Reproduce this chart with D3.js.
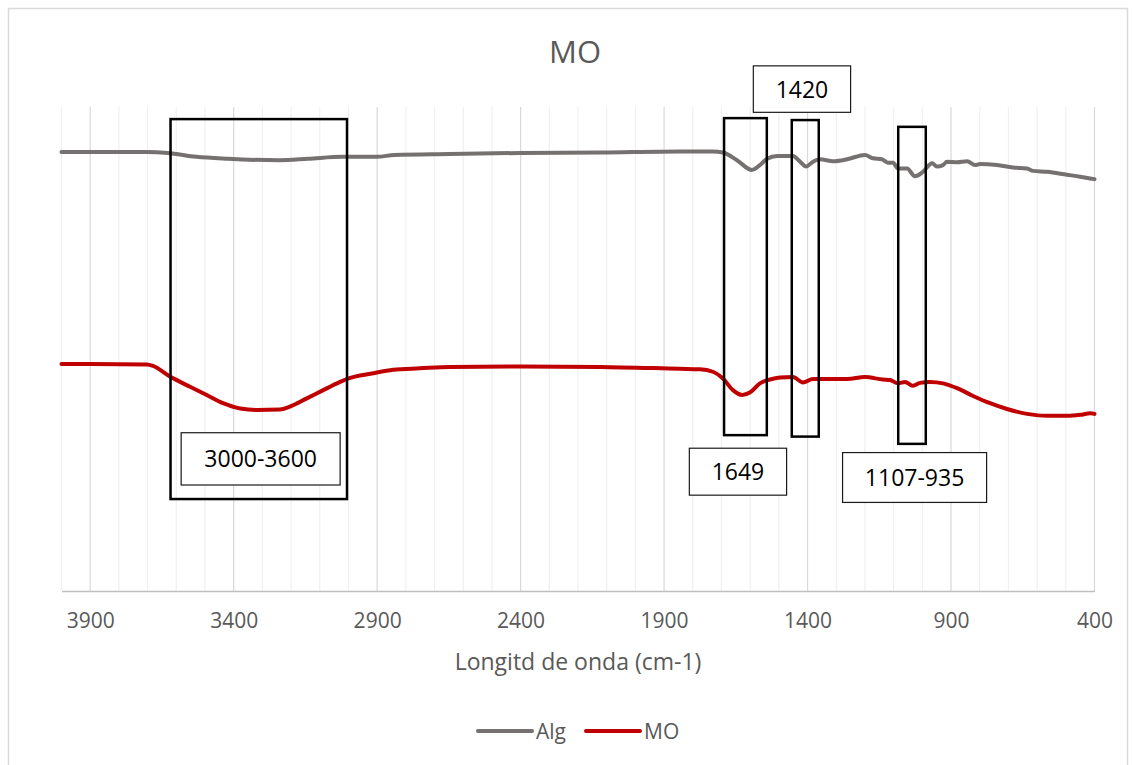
<!DOCTYPE html>
<html>
<head>
<meta charset="utf-8">
<script src="https://cdn.jsdelivr.net/npm/d3@7"></script>
<style>
  html, body { margin: 0; padding: 0; background: #fff; }
  svg { display: block; }
  text { font-family: "Open Sans", "Noto Sans", sans-serif; }
</style>
</head>
<body>
<svg id="chart" width="1134" height="765"></svg>
<script>
// FTIR spectra: wavenumber (cm-1) and relative transmittance
const algWavenumber = [4000, 3700, 3630, 3530, 3420, 3240, 3140, 3020, 2900, 2840, 2650, 2400, 2120, 1845, 1730, 1695, 1646, 1594, 1566, 1541, 1506, 1451, 1426, 1405, 1381, 1357, 1311, 1262, 1200, 1172, 1141, 1120, 1102, 1085, 1053, 1026, 998, 966, 949, 928, 914, 879, 844, 816, 799, 740, 684, 635, 614, 565, 496, 450, 400];
const algValues     = [90.7, 90.7, 90.5, 89.7, 89.3, 89.0, 89.3, 89.7, 89.7, 90.1, 90.3, 90.5, 90.6, 90.8, 90.8, 90.6, 89.0, 87.0, 88.0, 89.3, 89.9, 89.9, 88.7, 87.7, 88.7, 89.2, 88.8, 89.2, 90.1, 89.4, 89.2, 88.5, 88.5, 87.3, 87.3, 85.7, 86.6, 88.4, 87.7, 88.0, 88.7, 88.6, 88.8, 88.0, 88.2, 88.0, 87.5, 87.3, 86.8, 86.6, 86.0, 85.6, 85.1];

const moWavenumber = [4000, 3703, 3681, 3622, 3552, 3494, 3437, 3377, 3320, 3239, 3204, 3145, 3088, 3029, 3006, 2913, 2844, 2751, 2646, 2402, 2123, 1845, 1775, 1730, 1695, 1660, 1628, 1601, 1566, 1531, 1496, 1451, 1416, 1381, 1332, 1262, 1200, 1137, 1113, 1085, 1060, 1033, 1008, 973, 928, 879, 823, 764, 705, 635, 565, 496, 450, 415, 400];
const moValues     = [46.9, 46.8, 46.5, 44.3, 42.2, 40.5, 38.8, 37.7, 37.4, 37.5, 38.1, 39.8, 41.5, 43.2, 43.8, 45.0, 45.7, 46.0, 46.3, 46.4, 46.3, 45.9, 45.8, 45.3, 43.9, 41.5, 40.5, 41.0, 42.9, 43.7, 44.1, 44.2, 43.1, 43.8, 43.8, 43.8, 44.2, 43.7, 43.6, 42.9, 43.2, 42.4, 43.0, 43.2, 42.9, 41.9, 40.3, 38.8, 37.6, 36.6, 36.2, 36.2, 36.4, 36.7, 36.6];

const seriesNames  = ["Alg", "MO"];
const seriesColors = ["#767171", "#c00000"];
const xTickValues  = [3900, 3400, 2900, 2400, 1900, 1400, 900, 400];

// Highlighted absorption bands (wavenumber span, transmittance span)
const bandBoxes = [
  { x0: 3620, x1: 3005, y0: 97.5, y1: 19.0 },
  { x0: 1691, x1: 1542, y0: 97.7, y1: 32.2 },
  { x0: 1455, x1: 1361, y0: 97.3, y1: 31.9 },
  { x0: 1084, x1: 988,  y0: 95.9, y1: 30.4 }
];
// Captions for the bands
const bandLabels = [
  { text: "3000-3600", x0: 3583, x1: 3029, y0: 32.7,  y1: 21.9 },
  { text: "1420",      x0: 1589, x1: 1250, y0: 108.5, y1: 98.9 },
  { text: "1649",      x0: 1812, x1: 1473, y0: 29.5,  y1: 19.8 },
  { text: "1107-935",  x0: 1278, x1: 776,  y0: 28.6,  y1: 18.3 }
];

const svg = d3.select("#chart");
const plot = { left: 61.5, right: 1094.5, top: 107, bottom: 591 };

const x = d3.scaleLinear().domain([4000, 400]).range([plot.left, plot.right]);
const y = d3.scaleLinear().domain([0, 100]).range([plot.bottom, plot.top]);

// Chart frame
svg.append("rect")
  .attr("x", 8.5).attr("y", 8.5).attr("width", 1119).attr("height", 770)
  .attr("fill", "#fff").attr("stroke", "#d9d9d9").attr("stroke-width", 1.5);

// Minor and major vertical gridlines
const minorTicks = d3.range(400, 4001, 100).filter(v => !xTickValues.includes(v));
svg.append("g").selectAll("line").data(minorTicks).join("line")
  .attr("x1", d => x(d)).attr("x2", d => x(d))
  .attr("y1", plot.top).attr("y2", plot.bottom)
  .attr("stroke", "#f0f0f0").attr("stroke-width", 1.2);
svg.append("g").selectAll("line").data(xTickValues).join("line")
  .attr("x1", d => x(d)).attr("x2", d => x(d))
  .attr("y1", plot.top).attr("y2", plot.bottom)
  .attr("stroke", "#d9d9d9").attr("stroke-width", 1.2);

// Horizontal axis
const xAxis = d3.axisBottom(x).tickValues(xTickValues).tickSize(0).tickPadding(0).tickFormat(d3.format("d"));
const gx = svg.append("g").attr("transform", `translate(0,${plot.bottom})`).call(xAxis);
gx.select(".domain").attr("stroke", "#bfbfbf").attr("stroke-width", 1.5);
gx.selectAll(".tick text")
  .attr("y", 37).attr("dy", 0)
  .attr("fill", "#595959")
  .style("font-size", "21px")
  .style("font-family", "'Open Sans', sans-serif");

// Spectra
const series = [
  { name: seriesNames[0], color: seriesColors[0], pts: algWavenumber.map((w, i) => [w, algValues[i]]) },
  { name: seriesNames[1], color: seriesColors[1], pts: moWavenumber.map((w, i) => [w, moValues[i]]) }
];
const line = d3.line().x(d => x(d[0])).y(d => y(d[1])).curve(d3.curveMonotoneX);
svg.append("g").selectAll("path").data(series).join("path")
  .attr("d", d => line(d.pts))
  .attr("fill", "none")
  .attr("stroke", d => d.color)
  .attr("stroke-width", 4)
  .attr("stroke-linejoin", "round")
  .attr("stroke-linecap", "round");

// Band highlight boxes
svg.append("g").selectAll("rect").data(bandBoxes).join("rect")
  .attr("x", d => x(d.x0)).attr("y", d => y(d.y0))
  .attr("width", d => x(d.x1) - x(d.x0))
  .attr("height", d => y(d.y1) - y(d.y0))
  .attr("fill", "none").attr("stroke", "#000").attr("stroke-width", 2.5);

// Band captions
const lab = svg.append("g").selectAll("g").data(bandLabels).join("g");
lab.append("rect")
  .attr("x", d => x(d.x0)).attr("y", d => y(d.y0))
  .attr("width", d => x(d.x1) - x(d.x0))
  .attr("height", d => y(d.y1) - y(d.y0))
  .attr("fill", "#fff").attr("stroke", "#1a1a1a").attr("stroke-width", 1.2);
lab.append("text")
  .attr("x", d => (x(d.x0) + x(d.x1)) / 2)
  .attr("y", d => (y(d.y0) + y(d.y1)) / 2 + 8.5)
  .attr("text-anchor", "middle")
  .attr("fill", "#000")
  .style("font-size", "23px")
  .text(d => d.text);

// Title
svg.append("text")
  .attr("x", 575).attr("y", 63)
  .attr("text-anchor", "middle")
  .attr("fill", "#595959")
  .style("font-size", "31px")
  .text("MO");

// Axis title
svg.append("text")
  .attr("x", 578).attr("y", 670)
  .attr("text-anchor", "middle")
  .attr("fill", "#595959")
  .style("font-size", "23px")
  .text("Longitd de onda (cm-1)");

// Legend
const legend = svg.append("g");
const legendX = [478, 586];
series.forEach((s, i) => {
  legend.append("line")
    .attr("x1", legendX[i]).attr("x2", legendX[i] + 54)
    .attr("y1", 731).attr("y2", 731)
    .attr("stroke", s.color).attr("stroke-width", 4)
    .attr("stroke-linecap", "round");
  legend.append("text")
    .attr("x", legendX[i] + 58).attr("y", 738.5)
    .attr("fill", "#595959")
    .style("font-size", "21px")
    .text(s.name);
});
</script>
</body>
</html>
